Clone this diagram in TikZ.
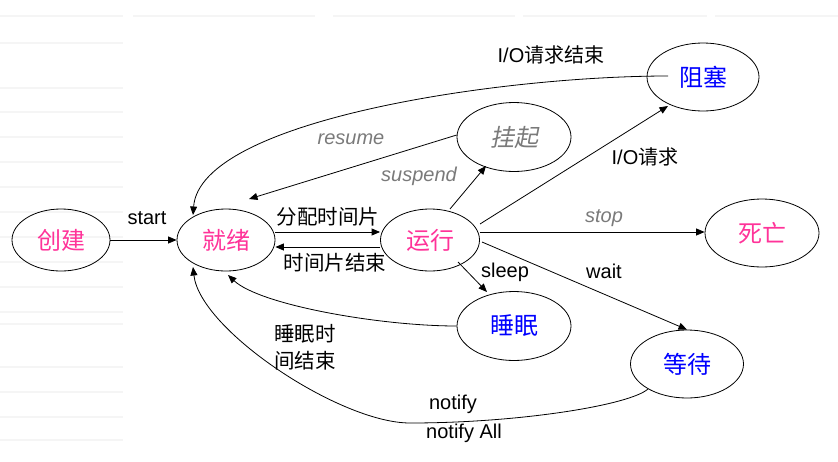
\documentclass[tikz,border=0pt]{standalone}
\usepackage{fontspec}
\setmainfont{Liberation Sans}
\newfontfamily\cjk{Noto Sans CJK SC}
\newfontfamily\cjkit[FakeSlant=0.2]{Noto Sans CJK SC}
\usetikzlibrary{shapes.geometric,arrows.meta,calc}
\definecolor{pinkc}{HTML}{FF3399}
\definecolor{bluec}{HTML}{0000FF}
\definecolor{grayc}{HTML}{7A7A7A}
\begin{document}
\begin{tikzpicture}[x=1pt,y=-1pt,
  state/.style={ellipse, draw, line width=0.8pt, inner sep=0pt, font=\cjk\fontsize{24}{28}\selectfont},
  pinkst/.style={state, text=pinkc},
  bluest/.style={state, text=bluec},
  lbl/.style={inner sep=0pt, font=\fontsize{20}{24}\selectfont},
  lblc/.style={inner sep=0pt, font=\cjk\fontsize{20.5}{27}\selectfont},
  gi/.style={text=grayc, font=\fontsize{20}{24}\selectfont\itshape},
  arr/.style={line width=0.8pt, -{Triangle[length=8.5pt,width=7pt]}},
  stripe/.style={line width=1.5pt, black!4}]
\useasboundingbox (0,0) rectangle (838,461);
% faint background stripes
\foreach \yy in {43,88,112,137,162,187,212,237,262,287,312,324,367,392,417,440}
  \draw[stripe] (0,\yy) -- (123,\yy);
\foreach \xa/\xb in {0/123,133/315,333/515,523/707,715/838}
  \draw[stripe] (\xa,16) -- (\xb,16);
% states
\node[pinkst, minimum width=98pt, minimum height=62pt] (cj) at (61,240) {创建};
\node[pinkst, minimum width=98pt, minimum height=62pt] (jx) at (226,240) {就绪};
\node[pinkst, minimum width=99pt, minimum height=62pt] (yx) at (430,240) {运行};
\node[state, minimum width=114pt, minimum height=69pt, text=grayc, font=\cjkit\fontsize{24}{28}\selectfont] (gq) at (514,137) {挂起};
\node[bluest, minimum width=112pt, minimum height=68pt] (zs) at (703,77) {阻塞};
\node[pinkst, minimum width=114pt, minimum height=68pt] (sw) at (762,233) {死亡};
\node[bluest, minimum width=114pt, minimum height=69pt] (sm) at (514,326) {睡眠};
\node[bluest, minimum width=113pt, minimum height=68pt] (dd) at (687,364) {等待};
% connectors
\draw[arr] (cj) -- (jx);
\draw[arr] ([yshift=8pt]jx.east) -- ([yshift=8pt]yx.west);
\draw[arr] ([yshift=-7pt]yx.west) -- ([yshift=-7pt]jx.east);
\draw[arr] (gq.178) -- ([shift={(23,-41)}]jx.center);
\draw[arr] ([shift={(20,-31)}]yx.center) -- ([shift={(-28,29)}]gq.center);
\draw[arr] ([shift={(50,-16)}]yx.center) -- ([shift={(-35,29)}]zs.center);
\draw[arr] ([yshift=8pt]yx.east) -- ([yshift=8pt]yx.east -| sw.west);
\draw[arr] ([shift={(28,22)}]yx.center) -- ([shift={(-27,-34)}]sm.center);
\draw[arr] ([shift={(52,2)}]yx.center) -- (dd.north);
\draw[arr] (sm.west) .. controls (380,326) and (260,305) .. ([shift={(2,35)}]jx.center);
\coordinate (nb) at (410,423);
\draw[arr] ([shift={(-39,25)}]dd.center) .. controls (630,405) and (520,423) .. (nb)
  .. controls (340,423) and (200,330) .. ([shift={(-33,27)}]jx.center);
\draw[arr] ([shift={(-35,-1)}]zs.center) .. controls (500,76) and (200,120) .. ([shift={(-33,-25)}]jx.center);
% labels
\node[lbl] (l1) at (147,218) {start};
\node[lblc] (l2) at (328,217) {分配时间片};
\node[lblc] (l3) at (335,263) {时间片结束};
\node[lbl, gi] (l4) at (351,139) {resume};
\node[lbl, gi] (l5) at (419,176) {suspend};
\node[lbl] (l6) at (645,157) {I/O{\cjk 请求}};
\node[lbl] (l7) at (551,55) {I/O{\cjk 请求结束}};
\node[lbl, gi] (l8) at (604,218) {stop};
\node[lbl] (l9) at (505,272) {sleep};
\node[lbl] (l10) at (604,271) {wait};
\node[lblc, align=left] (l11) at (305,347) {睡眠时\\间结束};
\node[lbl] (l12) at (453,404) {notify};
\node[lbl] (l13) at (464,433) {notify All};
\end{tikzpicture}
\end{document}
